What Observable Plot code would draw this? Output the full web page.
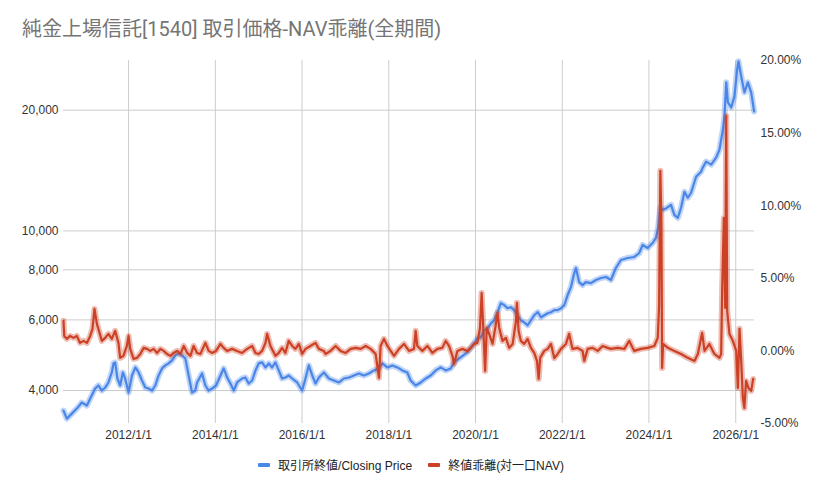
<!DOCTYPE html>
<html><head><meta charset="utf-8">
<script src="https://cdn.jsdelivr.net/npm/d3@7"></script>
<script src="https://cdn.jsdelivr.net/npm/@observablehq/plot@0.6"></script>
<style>
body{margin:0;background:#fff;}
#wrap{position:relative;width:822px;height:491px;overflow:hidden;font-family:"Liberation Sans",Arial,"Noto Sans CJK JP",sans-serif;}
#title{position:absolute;left:22px;top:13px;font-size:20px;color:#757575;font-family:Roboto,"Noto Sans CJK JP",sans-serif;white-space:nowrap;}
#chart{position:absolute;left:0;top:0;}
#legend{position:absolute;left:0;width:822px;top:456px;display:flex;justify-content:center;gap:16px;font-size:12px;color:#222;font-family:"Liberation Sans",Arial,"Noto Sans CJK JP",sans-serif;}
.item{display:flex;align-items:center;gap:8px;}
.sw{display:inline-block;width:12px;height:4px;border-radius:1px;}
</style></head><body>
<div id="wrap"><div id="chart"></div><div id="title"></div><div id="legend"></div></div>
<script>
const titleText = "純金上場信託[1540] 取引価格-NAV乖離(全期間)";
const seriesNames = ["取引所終値/Closing Price", "終値乖離(対一口NAV)"];
const seriesColors = ["#4a86e8", "#cc4125"];
const leftTicks = [4000, 6000, 8000, 10000, 20000];
const rightTicks = [-5, 0, 5, 10, 15, 20];
const xTicks = ["2012-01-01","2014-01-01","2016-01-01","2018-01-01","2020-01-01","2022-01-01","2024-01-01","2026-01-01"];

const priceDates = ["2010-07-02","2010-07-30","2010-09-10","2010-10-22","2010-12-03","2011-01-15","2011-02-12","2011-03-26","2011-04-22","2011-05-21","2011-06-18","2011-07-15","2011-08-13","2011-08-27","2011-09-10","2011-09-29","2011-10-22","2011-11-14","2011-12-03","2012-01-01","2012-01-30","2012-02-27","2012-03-26","2012-04-23","2012-05-21","2012-06-18","2012-07-16","2012-08-13","2012-09-10","2012-10-09","2012-11-06","2012-12-03","2013-01-01","2013-01-29","2013-02-26","2013-03-26","2013-04-23","2013-05-21","2013-06-19","2013-07-16","2013-07-31","2013-09-11","2013-10-09","2013-11-06","2013-12-04","2014-01-07","2014-02-13","2014-03-12","2014-04-10","2014-05-08","2014-06-05","2014-07-03","2014-08-14","2014-09-11","2014-10-09","2014-11-07","2014-12-05","2015-01-01","2015-01-30","2015-02-27","2015-03-27","2015-04-24","2015-05-22","2015-06-19","2015-07-17","2015-08-14","2015-09-11","2015-10-10","2015-11-21","2016-01-02","2016-01-30","2016-02-27","2016-03-27","2016-04-24","2016-05-22","2016-07-03","2016-08-14","2016-09-25","2016-11-07","2016-12-19","2017-01-30","2017-03-13","2017-04-24","2017-06-05","2017-07-17","2017-08-28","2017-10-10","2017-11-07","2017-12-20","2018-01-31","2018-03-14","2018-04-25","2018-06-06","2018-07-04","2018-08-15","2018-09-27","2018-11-08","2018-12-20","2019-01-31","2019-03-14","2019-04-25","2019-06-06","2019-07-04","2019-08-28","2019-10-24","2019-12-20","2020-01-18","2020-02-15","2020-03-14","2020-04-12","2020-05-10","2020-06-06","2020-07-05","2020-08-02","2020-08-30","2020-09-27","2020-10-25","2020-11-22","2020-12-20","2021-01-17","2021-02-14","2021-03-15","2021-04-12","2021-05-10","2021-06-08","2021-07-06","2021-08-03","2021-08-31","2021-09-28","2021-10-26","2021-11-23","2021-12-21","2022-01-18","2022-02-15","2022-03-15","2022-04-12","2022-04-26","2022-05-23","2022-06-21","2022-07-19","2022-08-30","2022-10-11","2022-11-23","2023-01-04","2023-02-15","2023-03-28","2023-05-10","2023-07-05","2023-08-30","2023-10-11","2023-11-09","2023-12-21","2024-02-01","2024-02-29","2024-03-19","2024-04-06","2024-04-26","2024-05-24","2024-07-05","2024-08-02","2024-08-31","2024-09-28","2024-10-26","2024-11-23","2024-12-21","2025-02-01","2025-03-15","2025-03-29","2025-04-26","2025-06-08","2025-07-20","2025-08-17","2025-09-15","2025-09-28","2025-10-13","2025-10-27","2025-11-24","2025-12-21","2026-01-13","2026-01-24","2026-02-16","2026-03-15","2026-04-13","2026-05-11","2026-06-05"];
const priceValues = [3565,3404,3503,3606,3733,3669,3820,4046,4117,4000,4069,4189,4437,4673,4700,4286,4117,4437,4286,3954,4361,4567,4437,4237,4069,4046,4000,4117,4361,4541,4620,4673,4755,4894,4951,4894,4810,4361,3954,4000,4189,4412,4117,4000,4046,4117,4361,4541,4311,4165,4000,4189,4286,4311,4165,4237,4489,4673,4700,4567,4673,4567,4700,4489,4286,4311,4361,4286,4189,4000,4286,4620,4361,4165,4311,4437,4286,4237,4189,4286,4311,4361,4412,4361,4412,4489,4541,4673,4567,4620,4567,4489,4437,4237,4117,4189,4286,4361,4489,4567,4489,4541,4700,4837,4979,5245,5399,5430,5650,5715,5884,5987,6271,6605,6530,6417,6454,6344,6163,5987,5918,5816,5987,6163,6271,6092,6163,6235,6271,6344,6344,6417,6530,6920,7242,7852,8081,7454,7324,7454,7411,7543,7630,7674,7543,8081,8462,8560,8610,8809,9224,9068,9330,9604,10232,11440,11288,11380,11617,10968,10781,11440,12520,12097,12450,13648,14048,14376,14884,14629,15230,15947,17896,19290,23464,20908,20313,21644,25288,26480,24288,22148,23464,22148,19853];

const devDates = ["2010-07-02","2010-07-08","2010-07-30","2010-08-27","2010-09-24","2010-10-22","2010-11-19","2010-12-17","2011-01-15","2011-02-12","2011-03-03","2011-03-20","2011-04-09","2011-04-22","2011-05-21","2011-06-18","2011-07-15","2011-08-13","2011-09-10","2011-10-08","2011-10-22","2011-11-19","2011-12-18","2012-01-01","2012-01-15","2012-02-12","2012-03-12","2012-04-09","2012-05-07","2012-06-05","2012-07-02","2012-07-30","2012-08-28","2012-09-25","2012-10-23","2012-11-20","2012-12-18","2013-01-15","2013-02-13","2013-03-13","2013-04-10","2013-05-09","2013-06-05","2013-07-02","2013-07-31","2013-08-28","2013-10-09","2013-11-06","2013-12-04","2014-01-07","2014-02-13","2014-03-12","2014-04-10","2014-05-22","2014-07-03","2014-08-14","2014-09-26","2014-11-07","2014-12-05","2015-01-01","2015-01-30","2015-02-27","2015-03-13","2015-04-10","2015-05-22","2015-06-19","2015-07-17","2015-08-14","2015-09-11","2015-10-10","2015-11-07","2015-12-05","2016-01-02","2016-01-30","2016-03-12","2016-04-24","2016-05-22","2016-07-03","2016-07-17","2016-08-28","2016-10-10","2016-11-21","2017-01-02","2017-02-14","2017-03-28","2017-05-09","2017-06-20","2017-08-01","2017-09-12","2017-10-10","2017-10-24","2017-11-21","2017-12-20","2018-01-17","2018-02-14","2018-03-28","2018-05-09","2018-06-20","2018-08-01","2018-08-15","2018-08-29","2018-10-11","2018-11-22","2019-01-03","2019-02-14","2019-03-28","2019-04-25","2019-05-23","2019-06-21","2019-07-04","2019-08-02","2019-09-13","2019-10-25","2019-11-22","2019-12-20","2020-01-17","2020-02-08","2020-02-22","2020-03-05","2020-03-22","2020-04-05","2020-04-25","2020-05-24","2020-06-21","2020-07-05","2020-07-19","2020-08-16","2020-09-13","2020-10-11","2020-11-09","2020-12-07","2020-12-15","2020-12-29","2021-01-17","2021-02-14","2021-03-15","2021-04-12","2021-05-10","2021-06-02","2021-06-16","2021-06-29","2021-08-02","2021-08-31","2021-09-28","2021-10-26","2021-11-23","2021-12-21","2022-02-01","2022-02-28","2022-03-28","2022-05-10","2022-06-21","2022-07-05","2022-08-03","2022-09-14","2022-10-26","2022-12-07","2023-01-18","2023-02-15","2023-04-13","2023-06-08","2023-07-19","2023-08-30","2023-10-26","2023-12-21","2024-02-15","2024-03-15","2024-03-26","2024-04-06","2024-04-15","2024-04-21","2024-04-29","2024-06-08","2024-08-02","2024-09-28","2024-11-23","2025-01-18","2025-02-16","2025-03-24","2025-04-13","2025-05-24","2025-07-05","2025-08-17","2025-08-31","2025-09-09","2025-09-23","2025-10-04","2025-10-13","2025-10-21","2025-11-09","2025-12-08","2026-01-05","2026-01-19","2026-02-02","2026-02-16","2026-03-02","2026-03-15","2026-03-29","2026-04-18","2026-05-11","2026-05-28"];
const devValues = [2.07,1.03,0.83,1.03,0.90,1.03,0.55,0.69,0.55,1.03,1.52,2.89,1.86,1.52,0.69,0.90,1.17,0.83,1.38,0.55,-0.48,-0.34,0.34,1.03,0.14,-0.55,-0.48,-0.21,0.21,0.14,0.00,0.14,-0.14,0.14,0.00,-0.21,-0.34,-0.14,0.00,-0.21,0.34,-0.14,-0.34,0.34,-0.14,-0.21,0.55,0.00,-0.14,0.00,0.48,0.21,0.00,0.14,0.00,-0.14,0.14,0.34,-0.14,-0.21,0.00,0.55,1.17,0.34,-0.34,-0.14,0.21,-0.14,0.69,0.34,0.14,0.48,-0.21,0.14,0.34,0.55,0.14,0.00,-0.21,0.00,0.34,0.00,-0.14,0.14,0.21,0.14,0.34,0.14,-0.21,-1.86,0.34,0.83,0.34,0.00,-0.34,0.14,0.48,0.00,0.14,1.38,0.34,0.00,0.34,-0.14,0.14,0.21,0.69,0.34,-0.34,-0.90,0.00,0.14,0.00,0.21,0.48,0.55,1.58,3.99,1.86,-1.38,1.58,1.17,0.48,1.86,2.62,1.58,0.69,0.90,0.21,0.48,2.07,3.31,1.38,0.69,0.48,0.83,0.21,-0.14,-0.69,-1.93,-0.48,0.00,0.14,0.48,-0.50,-0.21,0.14,0.48,1.17,0.14,0.21,0.00,-0.69,0.14,0.21,0.00,0.34,0.21,0.14,0.21,0.14,0.69,0.00,0.14,0.21,0.34,0.90,2.96,12.40,8.75,-1.17,0.48,0.21,0.00,-0.21,-0.48,-0.69,-0.21,1.24,0.00,0.48,-0.21,-0.48,-0.21,4.34,9.16,2.96,16.18,2.75,1.17,0.69,0.00,-2.55,1.52,-0.69,-3.24,-3.93,-2.07,-2.55,-2.75,-1.93];

const xStart = "2010-07-02", xEnd = "2026-06-08";
const yLo = 3310, yHi = 26600, devLo = -5, devHi = 20;

const parse = d3.utcParse("%Y-%m-%d");
const price = priceDates.map((d, i) => ({date: parse(d), value: priceValues[i]}));
const dev = devDates.map((d, i) => ({date: parse(d), value: devValues[i]}));
const toLeft = d => yLo * Math.pow(yHi / yLo, (d - devLo) / (devHi - devLo));
const fromLeft = v => devLo + (devHi - devLo) * Math.log(v / yLo) / Math.log(yHi / yLo);
const xTickDates = xTicks.map(parse);
const fmtDate = d => `${d.getUTCFullYear()}/${d.getUTCMonth() + 1}/${d.getUTCDate()}`;

const chart = Plot.plot({
  width: 822, height: 491,
  marginLeft: 63, marginRight: 68, marginTop: 60, marginBottom: 68,
  style: {fontFamily: '"Liberation Sans", Arial, sans-serif', fontSize: "12px", color: "#333", background: "transparent"},
  x: {type: "utc", domain: [parse(xStart), parse(xEnd)]},
  y: {type: "log", domain: [yLo, yHi]},
  marks: [
    Plot.gridY(leftTicks, {stroke: "#cccccc", strokeOpacity: 1}),
    Plot.gridX(xTickDates, {stroke: "#cccccc", strokeOpacity: 1}),
    Plot.axisY(leftTicks, {anchor: "left", tickSize: 0, tickPadding: 5, label: null, tickFormat: d3.format(",")}),
    Plot.axisY(rightTicks.map(toLeft), {anchor: "right", tickSize: 0, tickPadding: 6, label: null, tickFormat: v => Math.round(fromLeft(v)).toFixed(2) + "%"}),
    Plot.axisX(xTickDates, {anchor: "bottom", tickSize: 0, tickPadding: 7, label: null, tickFormat: fmtDate}),
    Plot.lineY(price, {x: "date", y: "value", stroke: seriesColors[0], strokeWidth: 6, strokeOpacity: 0.35}),
    Plot.lineY(price, {x: "date", y: "value", stroke: seriesColors[0], strokeWidth: 2.2}),
    Plot.lineY(dev, {x: "date", y: d => toLeft(d.value), stroke: seriesColors[1], strokeWidth: 6, strokeOpacity: 0.35}),
    Plot.lineY(dev, {x: "date", y: d => toLeft(d.value), stroke: seriesColors[1], strokeWidth: 2.2})
  ]
});
document.getElementById("chart").appendChild(chart);
document.getElementById("title").textContent = titleText;
const legend = document.getElementById("legend");
seriesNames.forEach((name, i) => {
  const it = document.createElement("div"); it.className = "item";
  const sw = document.createElement("span"); sw.className = "sw"; sw.style.background = seriesColors[i];
  const tx = document.createElement("span"); tx.textContent = name;
  it.appendChild(sw); it.appendChild(tx); legend.appendChild(it);
});
</script>
</body></html>
